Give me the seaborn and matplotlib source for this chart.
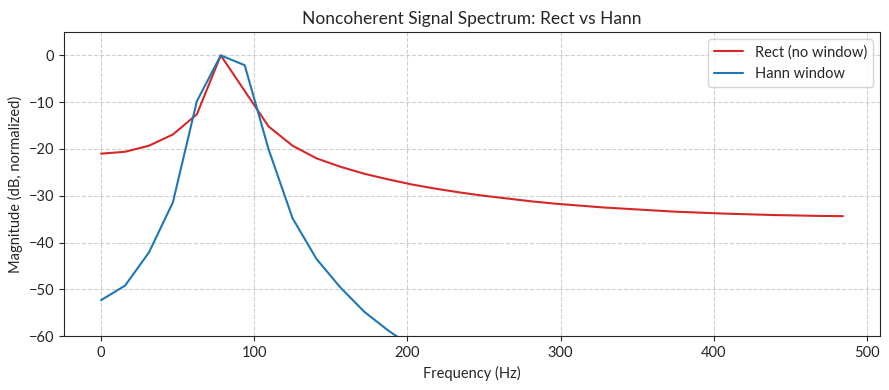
import numpy as np
import pandas as pd
import matplotlib
matplotlib.use('Agg')
import matplotlib.pyplot as plt
import seaborn as sns

# FFT bin frequencies (Hz)
freqs = [0.0, 15.625, 31.25, 46.875, 62.5, 78.125, 93.75, 109.375,
         125.0, 140.625, 156.25, 171.875, 187.5, 203.125, 218.75, 234.375,
         250.0, 265.625, 281.25, 296.875, 312.5, 328.125, 343.75, 359.375,
         375.0, 390.625, 406.25, 421.875, 437.5, 453.125, 468.75, 484.375]

# Magnitude in dB (normalized)
rect_db = [-21.0, -20.6, -19.3, -16.9, -12.6, 0.0, -7.6, -15.2,
           -19.3, -22.0, -23.8, -25.3, -26.5, -27.6, -28.5, -29.3,
           -30.0, -30.6, -31.2, -31.7, -32.1, -32.5, -32.8, -33.1,
           -33.4, -33.6, -33.8, -33.95, -34.1, -34.2, -34.3, -34.35]

hann_db = [-52.3, -49.2, -42.1, -31.4, -9.8, 0.0, -2.1, -20.1,
           -34.8, -43.5, -49.6, -54.8, -58.8, -62.3, -65.0, -67.2,
           -69.1, -70.8, -72.3, -73.6, -74.8, -75.9, -76.9, -77.8,
           -78.6, -79.4, -80.0, -80.6, -81.1, -81.5, -81.8, -82.0]

labels = ['Rect (no window)', 'Hann window']
colors = ['#d62728', '#1f77b4']

df = pd.DataFrame({
    'freq': freqs * 2,
    'mag': rect_db + hann_db,
    'window': [labels[0]] * len(freqs) + [labels[1]] * len(freqs),
})

sns.set_style('ticks')
plt.rcParams['font.family'] = ['Lato', 'DejaVu Sans']

fig, ax = plt.subplots(figsize=(8.89, 3.9), dpi=100)
sns.lineplot(data=df, x='freq', y='mag', hue='window', palette=colors,
             linewidth=1.5, ax=ax)
ax.set_ylim(-60, 5)
ax.set_title('Noncoherent Signal Spectrum: Rect vs Hann', fontsize=12.5)
ax.set_xlabel('Frequency (Hz)', fontsize=10.5)
ax.set_ylabel('Magnitude (dB, normalized)', fontsize=10.5)
ax.tick_params(labelsize=10.5)
ax.grid(True, linestyle='--', color='#b0b0b0', alpha=0.6)
ax.legend(title=None, loc='upper right', fontsize=10.5)
fig.subplots_adjust(left=0.072, right=0.99, top=0.918, bottom=0.138)
plt.savefig('out.png', dpi=100)
